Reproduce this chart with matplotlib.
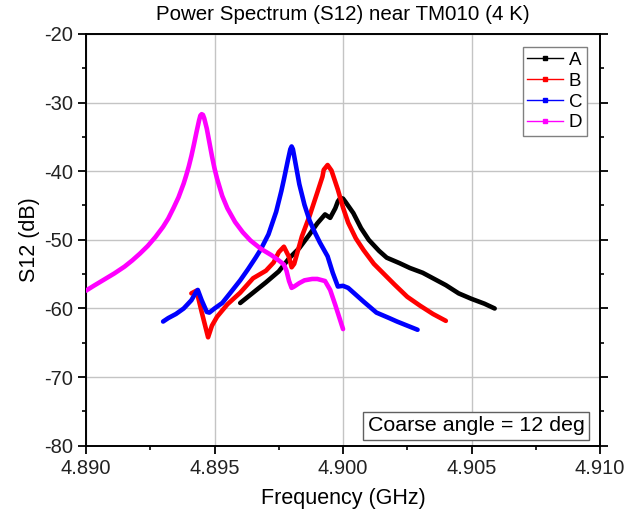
import matplotlib
matplotlib.use("Agg")
import matplotlib.pyplot as plt
from matplotlib.lines import Line2D
from matplotlib.ticker import MultipleLocator, FormatStrFormatter

plt.rcParams['font.family'] = ['Liberation Sans', 'DejaVu Sans']
plt.rcParams['axes.unicode_minus'] = False

title = "Power Spectrum (S12) near TM010 (4 K)"
xlabel = "Frequency (GHz)"
ylabel = "S12 (dB)"
note = "Coarse angle = 12 deg"
labels = ["A", "B", "C", "D"]
colors = ["#000000", "#ff0000", "#0000ff", "#ff00ff"]

fA = [4.8960, 4.8965, 4.8970, 4.8975, 4.8979, 4.8983, 4.8987, 4.8990, 4.8993,
      4.8995, 4.8997, 4.8998, 4.8999, 4.9000, 4.9001, 4.9004, 4.9007, 4.9010,
      4.9014, 4.9017, 4.9022, 4.9026, 4.9031, 4.9034, 4.9040, 4.9045, 4.9050,
      4.9055, 4.9059]
sA = [-59.2, -57.7, -56.2, -54.6, -52.7, -51.2, -49.2, -47.6, -46.3,
      -46.8, -45.4, -44.4, -43.9, -44.0, -44.5, -46.1, -48.3, -50.0,
      -51.6, -52.6, -53.4, -54.1, -54.8, -55.4, -56.6, -57.8, -58.6,
      -59.3, -60.0]

fB = [4.8941, 4.8943, 4.8945, 4.89475, 4.8949, 4.8951, 4.8955, 4.8960, 4.8965,
      4.8970, 4.8973, 4.8975, 4.8977, 4.8979, 4.8980, 4.8981, 4.8984, 4.8987,
      4.8990, 4.8992, 4.89925, 4.8994, 4.89955, 4.8998, 4.9000, 4.9002, 4.9005,
      4.9008, 4.9012, 4.9016, 4.9020, 4.9025, 4.9030, 4.9035, 4.9040]
sB = [-57.8, -57.4, -60.5, -64.2, -62.5, -61.2, -59.4, -57.7, -55.6,
      -54.5, -53.3, -51.8, -51.0, -52.5, -54.0, -53.5, -49.5, -46.5,
      -43.1, -40.8, -39.8, -39.1, -39.9, -42.7, -45.3, -47.5, -49.8,
      -51.5, -53.5, -55.0, -56.5, -58.3, -59.6, -60.8, -61.8]

fC = [4.8930, 4.8932, 4.8935, 4.8938, 4.8941, 4.8943, 4.89435, 4.8945, 4.8947,
      4.8948, 4.8950, 4.8953, 4.8956, 4.8960, 4.8963, 4.8966, 4.8968, 4.8971,
      4.8974, 4.8976, 4.8977, 4.89785, 4.89795, 4.8980, 4.89805, 4.8981, 4.8983,
      4.8985, 4.8987, 4.8989, 4.8991, 4.8994, 4.8996, 4.8998, 4.9000, 4.9002,
      4.9005, 4.9008, 4.9013, 4.9018, 4.9021, 4.9025, 4.9029]
sC = [-61.9, -61.4, -60.8, -60.0, -58.8, -57.5, -57.3, -58.8, -60.5,
      -60.6, -60.0, -59.2, -57.8, -55.9, -54.3, -52.6, -51.4, -49.2,
      -45.9, -42.9, -41.2, -38.5, -36.8, -36.4, -36.8, -37.8, -41.9,
      -44.9, -47.2, -48.9, -50.4, -52.4, -54.8, -56.8, -56.7, -57.0,
      -58.0, -59.0, -60.6, -61.4, -61.9, -62.5, -63.1]

fD = [4.8900, 4.8903, 4.8907, 4.8911, 4.8915, 4.8918, 4.8921, 4.8924, 4.8927,
      4.8930, 4.8932, 4.8934, 4.8936, 4.8938, 4.8939, 4.8940, 4.8941, 4.8942,
      4.8943, 4.8944, 4.89445, 4.8945, 4.89455, 4.8946, 4.8947, 4.8948, 4.8949,
      4.8950, 4.8951, 4.8953, 4.8955, 4.8958, 4.8961, 4.8964, 4.8968, 4.8972,
      4.8975, 4.8977, 4.8978, 4.8979, 4.8980, 4.8981, 4.8983, 4.8985, 4.8988,
      4.8990, 4.8993, 4.8995, 4.8997, 4.9000]
sD = [-57.4, -56.7, -55.8, -54.9, -53.9, -53.0, -52.0, -50.9, -49.6,
      -48.1, -46.9, -45.4, -43.8, -41.8, -40.6, -39.3, -37.8, -36.1,
      -34.3, -32.6, -31.9, -31.7, -31.8, -32.3, -33.8, -35.8, -37.8,
      -39.6, -41.1, -43.6, -45.4, -47.4, -48.9, -50.1, -51.3, -52.2,
      -53.0, -53.6, -54.5, -56.0, -57.0, -56.8, -56.3, -55.9, -55.7,
      -55.7, -56.0, -57.3, -59.5, -63.0]

xticks = [4.890, 4.895, 4.900, 4.905, 4.910]
yticks = [-80, -70, -60, -50, -40, -30, -20]

fig = plt.figure(figsize=(6.37, 5.13), dpi=100)
ax = fig.add_axes([0.135, 0.131, 0.807, 0.803])

series = [(fA, sA), (fB, sB), (fC, sC), (fD, sD)]
for (f, s), c in zip(series, colors):
    ax.plot(f, s, color=c, lw=3.3, solid_joinstyle='round', solid_capstyle='round', zorder=3)

ax.set_xlim(4.890, 4.910)
ax.set_ylim(-80, -20)
ax.set_xticks(xticks)
ax.set_yticks(yticks)
ax.xaxis.set_major_formatter(FormatStrFormatter('%.3f'))
ax.xaxis.set_minor_locator(MultipleLocator(0.0025))
ax.yaxis.set_minor_locator(MultipleLocator(5))
ax.grid(True, which='major', color='#c4c4c4', lw=1.0, zorder=0)
ax.tick_params(which='major', direction='out', length=6, width=1.3, labelsize=14.5,
               right=True, labelcolor='#222222')
ax.tick_params(which='minor', direction='out', length=3, width=1.2, right=True)
ax.tick_params(axis='y', which='both', labelright=False)
for sp in ax.spines.values():
    sp.set_linewidth(1.4)
    sp.set_color('black')

ax.set_title(title, fontsize=14.8, pad=10)
ax.set_xlabel(xlabel, fontsize=15.5, labelpad=7)
ax.set_ylabel(ylabel, fontsize=15.5, labelpad=3)

handles = [Line2D([0], [0], color=c, lw=1.0, marker='s', markersize=3) for c in colors]
leg = ax.legend(handles, labels, loc='upper right', fontsize=13.5, frameon=True,
                fancybox=False, edgecolor='#808080', framealpha=1.0,
                handlelength=1.9, handletextpad=0.3, labelspacing=0.2,
                borderpad=0.25, borderaxespad=0.7, numpoints=1)
leg.get_frame().set_linewidth(1.0)

ax.text(0.97, 0.025, note, transform=ax.transAxes, ha='right', va='bottom',
        fontsize=15.4, zorder=5,
        bbox=dict(boxstyle='square,pad=0.2', fc='white', ec='#606060', lw=1.0))

fig.savefig("out.png", dpi=100, facecolor='white')
